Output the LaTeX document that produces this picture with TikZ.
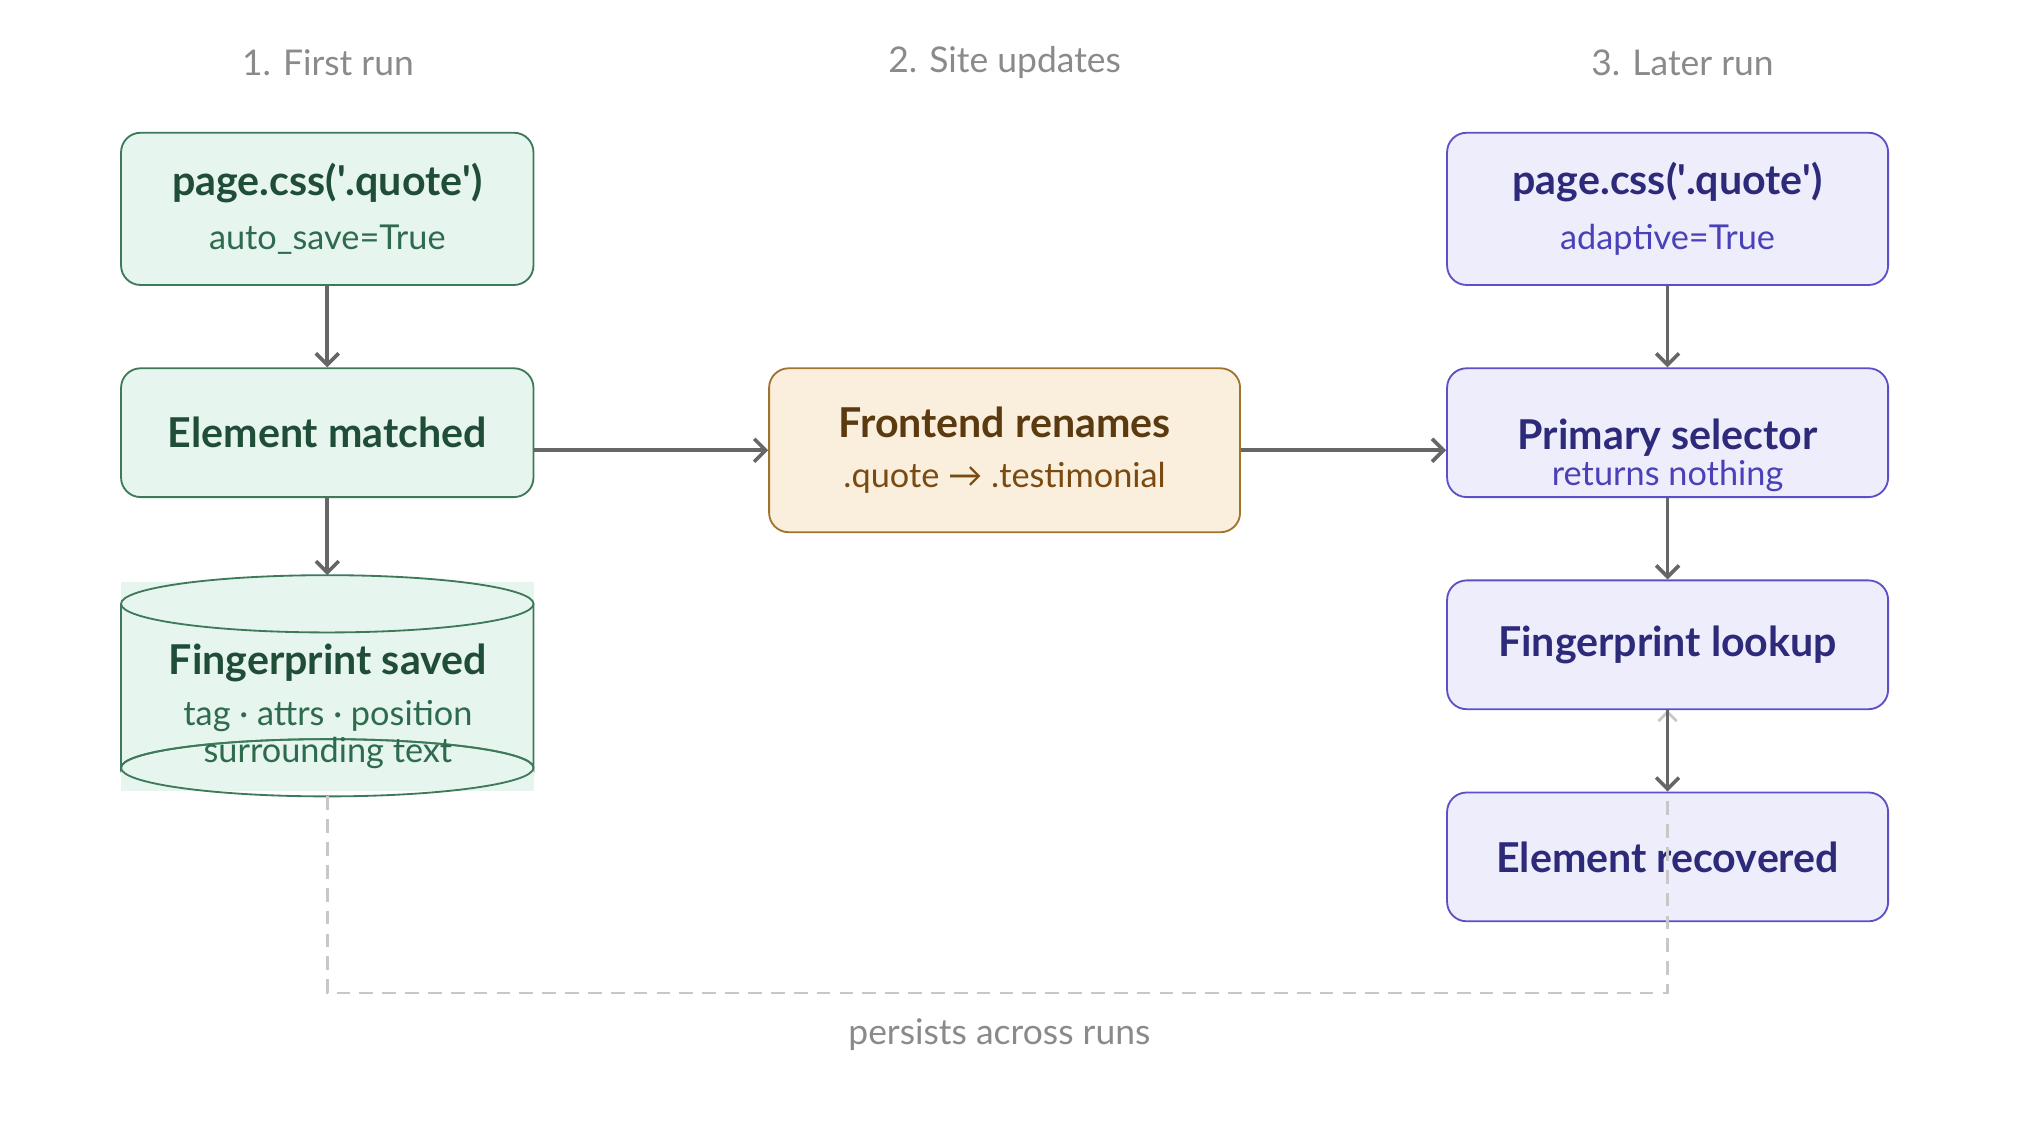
\documentclass[tikz,border=0pt]{standalone}
\usepackage{fontspec}
\setmainfont{Lato}
\usetikzlibrary{arrows.meta}
\definecolor{gfill}{HTML}{E6F5EE}\definecolor{gdraw}{HTML}{3E7A5A}
\definecolor{gtext}{HTML}{1F4D38}\definecolor{gsub}{HTML}{2E6B4E}
\definecolor{ofill}{HTML}{FAEFDD}\definecolor{odraw}{HTML}{A0742F}
\definecolor{otext}{HTML}{5C3A10}\definecolor{osub}{HTML}{7A4A12}
\definecolor{pfill}{HTML}{EEEDFC}\definecolor{pdraw}{HTML}{5B50C8}
\definecolor{ptext}{HTML}{2E2A7A}\definecolor{psub}{HTML}{4A40B8}
\definecolor{arr}{HTML}{666666}\definecolor{dashgray}{HTML}{C8C8C8}
\definecolor{head}{HTML}{8A8A8A}
\tikzset{
  box/.style={rectangle, rounded corners=0.3cm, line width=0.8pt, align=center, inner sep=0pt},
  gbox/.style={box, fill=gfill, draw=gdraw, text=gtext, minimum width=6.34cm},
  obox/.style={box, fill=ofill, draw=odraw, text=otext, minimum width=7.24cm},
  pbox/.style={box, fill=pfill, draw=pdraw, text=ptext, minimum width=6.78cm},
  ttl/.style={font=\fontsize{18}{21}\selectfont\bfseries},
  hdr/.style={text=head, font=\fontsize{15.5}{18}\selectfont},
  flow/.style={draw=arr, line width=1.6pt, -{Straight Barb[length=5pt,width=10pt]}},
}
\newcommand{\sub}[2]{{\color{#1}\fontsize{15}{18}\selectfont #2}}
\newcommand{\qt}{\textquotesingle}
\begin{document}
\begin{tikzpicture}[x=0.02cm, y=-0.02cm]
\useasboundingbox (0,0) rectangle (1560,870);
% column headers
\node[hdr] (h1) at (252,48) {1. First run};
\node[hdr] (h2) at (772,48) {2. Site updates};
\node[hdr] (h3) at (1293,48) {3. Later run};

% first run
\node[gbox, minimum height=2.34cm] (call1) at (251.5,160.5)
  {{\fontsize{18}{21}\selectfont\bfseries page.css(\qt.quote\qt)}\\[0.3cm]\sub{gsub}{auto\_save=True}};
\node[gbox, minimum height=1.98cm, ttl] (match) at (251.5,332.5) {Element matched};
% cylinder
\fill[gfill] (93,447) rectangle (410,608);
\draw[gdraw, line width=0.8pt, fill=gfill] (93,464) -- (93,590) arc[start angle=180, end angle=360, x radius=158.5, y radius=22] -- (410,464);
\draw[gdraw, line width=0.8pt] (251.5,590) ellipse[x radius=158.5, y radius=22];
\draw[gdraw, line width=0.8pt, fill=gfill] (251.5,464) ellipse[x radius=158.5, y radius=22];
\node[align=center, text=gtext, inner sep=0pt] (saved) at (252,543)
  {{\fontsize{18}{21}\selectfont\bfseries Fingerprint saved}\\[0.25cm]\sub{gsub}{tag · attrs · position}\\[0.05cm]\sub{gsub}{surrounding text}};
\coordinate (cyltop) at (251.5,442);
\coordinate (cylbot) at (251.5,612);

% site updates
\node[obox, minimum height=2.52cm] (rename) at (772,346)
  {{\fontsize{18}{21}\selectfont\bfseries Frontend renames}\\[0.35cm]\sub{osub}{.quote → .testimonial}};

% later run
\node[pbox, minimum height=2.34cm] (call2) at (1281.5,160.5)
  {{\fontsize{18}{21}\selectfont\bfseries page.css(\qt.quote\qt)}\\[0.3cm]\sub{psub}{adaptive=True}};
\node[pbox, minimum height=1.98cm] (primary) at (1281.5,332.5) {};
\node[align=center, text=ptext, inner sep=0pt] (primtxt) at (1281.5,350)
  {{\fontsize{18}{21}\selectfont\bfseries Primary selector}\\[0.02cm]\sub{psub}{returns nothing}};
\node[pbox, minimum height=1.98cm, ttl] (lookup) at (1281.5,495.5) {Fingerprint lookup};
\node[pbox, minimum height=1.98cm, ttl] (recover) at (1281.5,658.5) {Element recovered};

% persistence link
\draw[dashgray, line width=1.2pt, dash pattern=on 6pt off 4pt, -{Straight Barb[length=4pt,width=8pt]}]
  (cylbot) |- (1281.5,763) -- (lookup.south);
\node[hdr] (persist) at (768,795) {persists across runs};

% flow
\draw[flow] (call1) -- (match);
\draw[flow] (match.south) -- (cyltop);
\draw[flow] (match.east |- rename.west) -- (rename.west);
\draw[flow] (rename.east) -- (rename.east -| primary.west);
\draw[flow] (call2) -- (primary);
\draw[flow] (primary) -- (lookup);
\draw[flow] (lookup) -- (recover);
\end{tikzpicture}
\end{document}
